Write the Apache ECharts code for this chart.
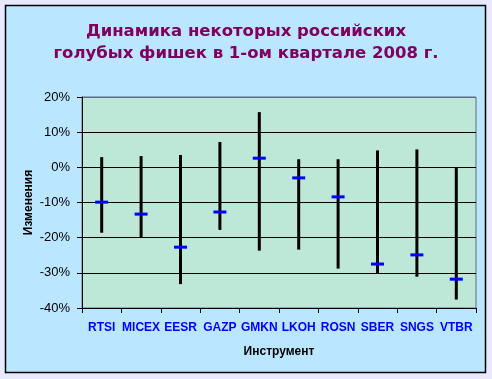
<!DOCTYPE html>
<html>
<head>
<meta charset="utf-8">
<script src="https://cdn.jsdelivr.net/npm/echarts@6/dist/echarts.min.js"></script>
<style>
html,body{margin:0;padding:0;background:#E8E8FF;}
#c{width:492px;height:379px;}
</style>
</head>
<body>
<div id="c"></div>
<script>
var categories = ['RTSI','MICEX','EESR','GAZP','GMKN','LKOH','ROSN','SBER','SNGS','VTBR'];
var highValues = [2.9, 3.2, 3.5, 7.2, 15.7, 2.3, 2.3, 4.8, 5.1, -0.2];
var lowValues = [-18.6, -20.0, -33.2, -17.8, -23.7, -23.4, -28.8, -30.2, -31.1, -37.6];
var closeValues = [-9.9, -13.3, -22.7, -12.7, 2.6, -3.0, -8.4, -27.5, -24.9, -31.8];
var yTicks = [-40, -30, -20, -10, 0, 10, 20];

var rangeData = categories.map(function(c, i){ return [i, lowValues[i], highValues[i]]; });
var closeData = categories.map(function(c, i){ return [i, closeValues[i]]; });

var chart = echarts.init(document.getElementById('c'), null, {renderer:'canvas'});
chart.setOption({
  backgroundColor: '#E8E8FF',
  animation: false,
  graphic: [{
    type: 'rect', z: -10, silent: true,
    shape: {x: 5.5, y: 5.5, width: 480, height: 367},
    style: {fill: '#BBE6FF', stroke: '#000000', lineWidth: 1.5}
  }],
  title: {
    text: 'Динамика некоторых российских\nголубых фишек в 1-ом квартале 2008 г.',
    left: 'center', top: 16,
    textStyle: {
      fontFamily: 'DejaVu Sans, sans-serif',
      fontSize: 16.5, fontWeight: 'bold', color: '#800060', lineHeight: 22
    }
  },
  grid: {
    left: 82, right: 16, top: 97, bottom: 71,
    show: true, backgroundColor: '#BDE8D8', borderColor: '#5F6B80', borderWidth: 1
  },
  xAxis: {
    type: 'category',
    data: categories,
    boundaryGap: true,
    name: 'Инструмент',
    nameLocation: 'middle',
    nameGap: 38,
    nameTextStyle: {fontFamily: 'Liberation Sans, Arial, sans-serif', fontSize: 12, fontWeight: 'bold', color: '#000'},
    axisLine: {onZero: false, lineStyle: {color: '#000', width: 1}},
    axisTick: {show: true, length: 5, inside: false, alignWithLabel: false, lineStyle: {color: '#000'}},
    axisLabel: {
      interval: 0, margin: 14,
      fontFamily: 'Liberation Sans, Arial, sans-serif', fontSize: 12, fontWeight: 'bold', color: '#0000FF'
    },
    splitLine: {show: false}
  },
  yAxis: {
    type: 'value',
    min: -40, max: 20, interval: 10,
    name: 'Изменения',
    nameLocation: 'middle',
    nameGap: 47,
    nameMoveOverlap: false,
    nameRotate: 90,
    nameTextStyle: {fontFamily: 'Liberation Sans, Arial, sans-serif', fontSize: 12, fontWeight: 'bold', color: '#000'},
    axisLine: {show: true, lineStyle: {color: '#000', width: 1}},
    axisTick: {show: true, length: 5, lineStyle: {color: '#000'}},
    axisLabel: {
      margin: 12,
      fontFamily: 'Liberation Sans, Arial, sans-serif', fontSize: 13, color: '#000',
      formatter: function(v){ return v + '%'; }
    },
    splitLine: {show: true, lineStyle: {color: ['#000','#000','#000','#000','#000','#000','#5F6B80'], width: 1}}
  },
  series: [{
    type: 'custom',
    data: rangeData,
    encode: {x: 0, y: [1, 2]},
    renderItem: function(params, api){
      var lo = api.coord([api.value(0), api.value(1)]);
      var hi = api.coord([api.value(0), api.value(2)]);
      return {
        type: 'line',
        shape: {x1: lo[0], y1: lo[1], x2: hi[0], y2: hi[1]},
        style: {stroke: '#000', lineWidth: 3}
      };
    },
    z: 2
  }, {
    type: 'custom',
    data: closeData,
    encode: {x: 0, y: 1},
    renderItem: function(params, api){
      var p = api.coord([api.value(0), api.value(1)]);
      return {
        type: 'rect',
        shape: {x: p[0] - 6.5, y: p[1] - 1.5, width: 13, height: 3},
        style: {fill: '#0000FF'}
      };
    },
    z: 3
  }]
});
</script>
</body>
</html>
